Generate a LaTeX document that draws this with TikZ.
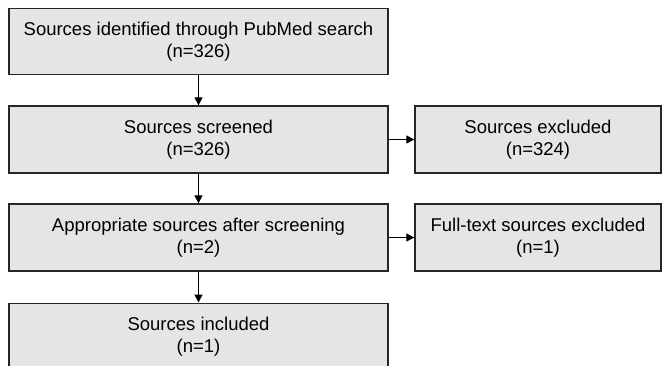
\documentclass[tikz,border=0pt]{standalone}
\usepackage{fontspec}
\setmainfont{Liberation Sans}
\usetikzlibrary{arrows.meta}
\begin{document}
\begin{tikzpicture}[x=1pt,y=-1pt,
  box/.style={draw=black!85,line width=1.3pt,fill=black!10,inner sep=0pt,
    font=\fontsize{18.5}{22}\selectfont,align=center},
  arr/.style={line width=1.2pt,-{Triangle[length=8pt,width=8pt]}}]
\useasboundingbox (0,0) rectangle (668,366);
\begin{scope}
\clip (0,0) rectangle (668,366);
\node[box,minimum width=379pt,minimum height=66pt] (a) at (198.5,41.5) {Sources identified through PubMed search\\(n=326)};
\node[box,minimum width=379pt,minimum height=67pt] (b) at (198.5,139.5) {Sources screened\\(n=326)};
\node[box,minimum width=379pt,minimum height=67pt] (c) at (198.5,237.5) {Appropriate sources after screening\\(n=2)};
\node[box,minimum width=379pt,minimum height=67pt,anchor=north] (d) at (198.5,302.5) {Sources included\\(n=1)};
\node[box,minimum width=246pt,minimum height=67pt] (e) at (538,139.5) {Sources excluded\\(n=324)};
\node[box,minimum width=246pt,minimum height=67pt] (f) at (538,237.5) {Full-text sources excluded\\(n=1)};
\draw[arr] (a) -- (b);
\draw[arr] (b) -- (c);
\draw[arr] (c) -- (d);
\draw[arr] (b) -- (e);
\draw[arr] (c) -- (f);
\end{scope}
\end{tikzpicture}
\end{document}
